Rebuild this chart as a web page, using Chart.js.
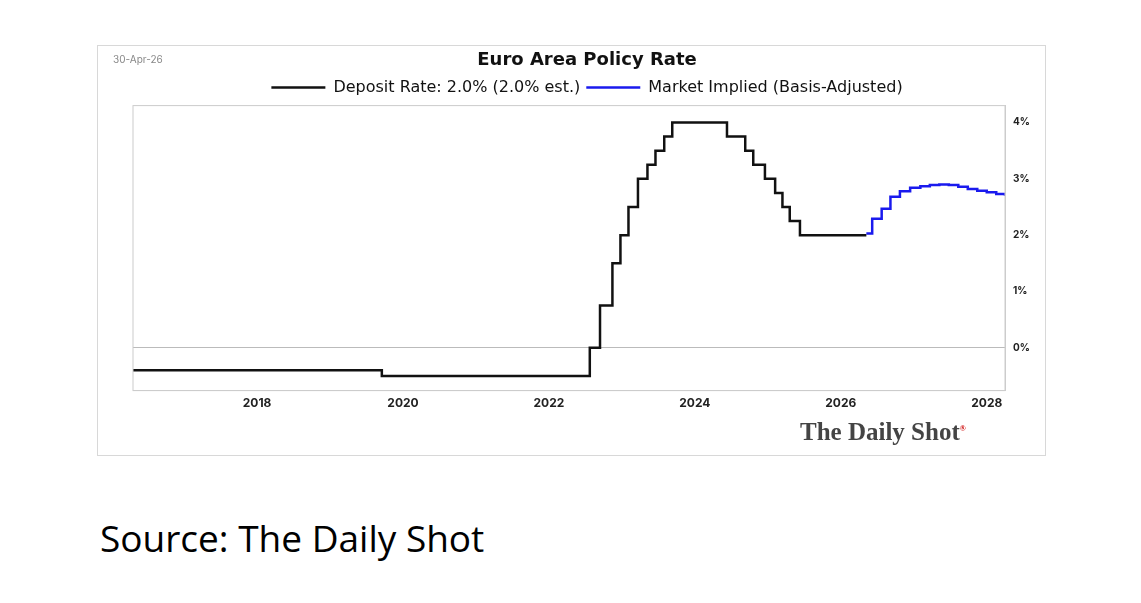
<!DOCTYPE html>
<html>
<head>
<meta charset="utf-8">
<script src="https://cdn.jsdelivr.net/npm/chart.js@4"></script>
<style>
  body { margin: 0; background: #fff; font-family: "Open Sans", sans-serif; }
  #frame { position: absolute; left: 97px; top: 45px; width: 947px; height: 409px; border: 1px solid #d8d8d8; }
  #date { position: absolute; left: 113px; top: 53px; font-size: 10px; color: #888; font-family: Inter, sans-serif; }
  #logo { position: absolute; left: 800px; top: 418px; font-size: 25px; font-weight: bold; font-family: "Liberation Serif", serif; color: #444; }
  #logo sup { font-size: 8px; color: #c00; }
  #source { position: absolute; left: 100px; top: 512px; font-size: 37px; font-family: "Open Sans", sans-serif; color: #000; }
</style>
</head>
<body>
<div id="frame"><canvas id="chart" width="947" height="409"></canvas></div>
<div id="date">30-Apr-26</div>
<div id="logo">The Daily Shot<sup>®</sup></div>
<div id="source">Source: The Daily Shot</div>
<script>
// deposit rate, step changes (decimal year, %)
var depositX = [2016.3, 2019.71, 2022.56, 2022.70, 2022.87, 2022.98, 2023.09, 2023.22, 2023.35, 2023.46, 2023.58, 2023.69, 2024.44, 2024.69, 2024.80, 2024.96, 2025.10, 2025.20, 2025.30, 2025.44, 2026.35];
var depositY = [-0.4, -0.5, 0, 0.75, 1.5, 2.0, 2.5, 3.0, 3.25, 3.5, 3.75, 4.0, 3.75, 3.5, 3.25, 3.0, 2.75, 2.5, 2.25, 2.0, 2.0];

// market implied path
var impliedX = [2026.35, 2026.43, 2026.56, 2026.68, 2026.81, 2026.95, 2027.09, 2027.22, 2027.35, 2027.48, 2027.61, 2027.74, 2027.87, 2028.0, 2028.13, 2028.25];
var impliedY = [2.03, 2.29, 2.47, 2.68, 2.78, 2.84, 2.87, 2.89, 2.9, 2.89, 2.86, 2.82, 2.79, 2.76, 2.73, 2.70];

var yearTicks = [2018, 2020, 2022, 2024, 2026, 2028];
var rateTicks = [0, 1, 2, 3, 4];

function pts(xs, ys) {
    return xs.map(function (x, i) { return { x: x, y: ys[i] }; });
}

var ctx = document.getElementById("chart").getContext("2d");

new Chart(ctx, {
    type: "line",
    data: {
        datasets: [{
            label: "Deposit Rate: 2.0% (2.0% est.)",
            data: pts(depositX, depositY),
            borderColor: "#111",
            backgroundColor: "#111",
            borderWidth: 2.5,
            stepped: true,
            pointRadius: 0
        }, {
            label: "Market Implied (Basis-Adjusted)",
            data: pts(impliedX, impliedY),
            borderColor: "#1a1aee",
            backgroundColor: "#1a1aee",
            borderWidth: 2.5,
            stepped: true,
            pointRadius: 0
        }]
    },
    options: {
        responsive: false,
        animation: false,
        layout: { padding: { left: 35, right: 4, bottom: 38, top: 4 } },
        plugins: {
            title: {
                display: true,
                text: "Euro Area Policy Rate",
                color: "#111",
                font: { size: 18, weight: "bold", family: "DejaVu Sans" },
                padding: { top: 0, bottom: 2 }
            },
            legend: {
                labels: {
                    usePointStyle: true,
                    pointStyle: "line",
                    pointStyleWidth: 54,
                    boxHeight: 2,
                    color: "#111",
                    font: { size: 16, family: "DejaVu Sans" },
                    padding: 6
                }
            },
            tooltip: { enabled: false }
        },
        scales: {
            x: {
                type: "linear",
                min: 2016.3,
                max: 2028.25,
                afterBuildTicks: function (axis) {
                    axis.ticks = yearTicks.map(function (v) { return { value: v }; });
                },
                grid: { display: false, drawTicks: false },
                border: { color: "#ccc" },
                ticks: {
                    color: "#222",
                    padding: 6,
                    font: { size: 12, weight: "bold", family: "Inter" },
                    callback: function (v) { return String(v); }
                }
            },
            y: {
                position: "right",
                min: -0.76,
                max: 4.3,
                afterBuildTicks: function (axis) {
                    axis.ticks = rateTicks.map(function (v) { return { value: v }; });
                },
                afterFit: function (axis) { axis.width = 36; },
                grid: {
                    drawTicks: false,
                    color: function (c) { return c.tick && c.tick.value === 0 ? "#bbb" : "rgba(0,0,0,0)"; }
                },
                border: { color: "#ccc" },
                ticks: {
                    color: "#222",
                    padding: 8,
                    font: { size: 10, weight: "bold", family: "Inter" },
                    callback: function (v) { return v + "%"; }
                }
            }
        }
    },
    plugins: [{
        id: "box",
        afterDraw: function (chart) {
            var a = chart.chartArea, c = chart.ctx;
            c.save();
            c.strokeStyle = "#ccc";
            c.lineWidth = 1;
            c.strokeRect(a.left, a.top, a.right - a.left, a.bottom - a.top);
            c.restore();
        }
    }]
});
</script>
</body>
</html>
